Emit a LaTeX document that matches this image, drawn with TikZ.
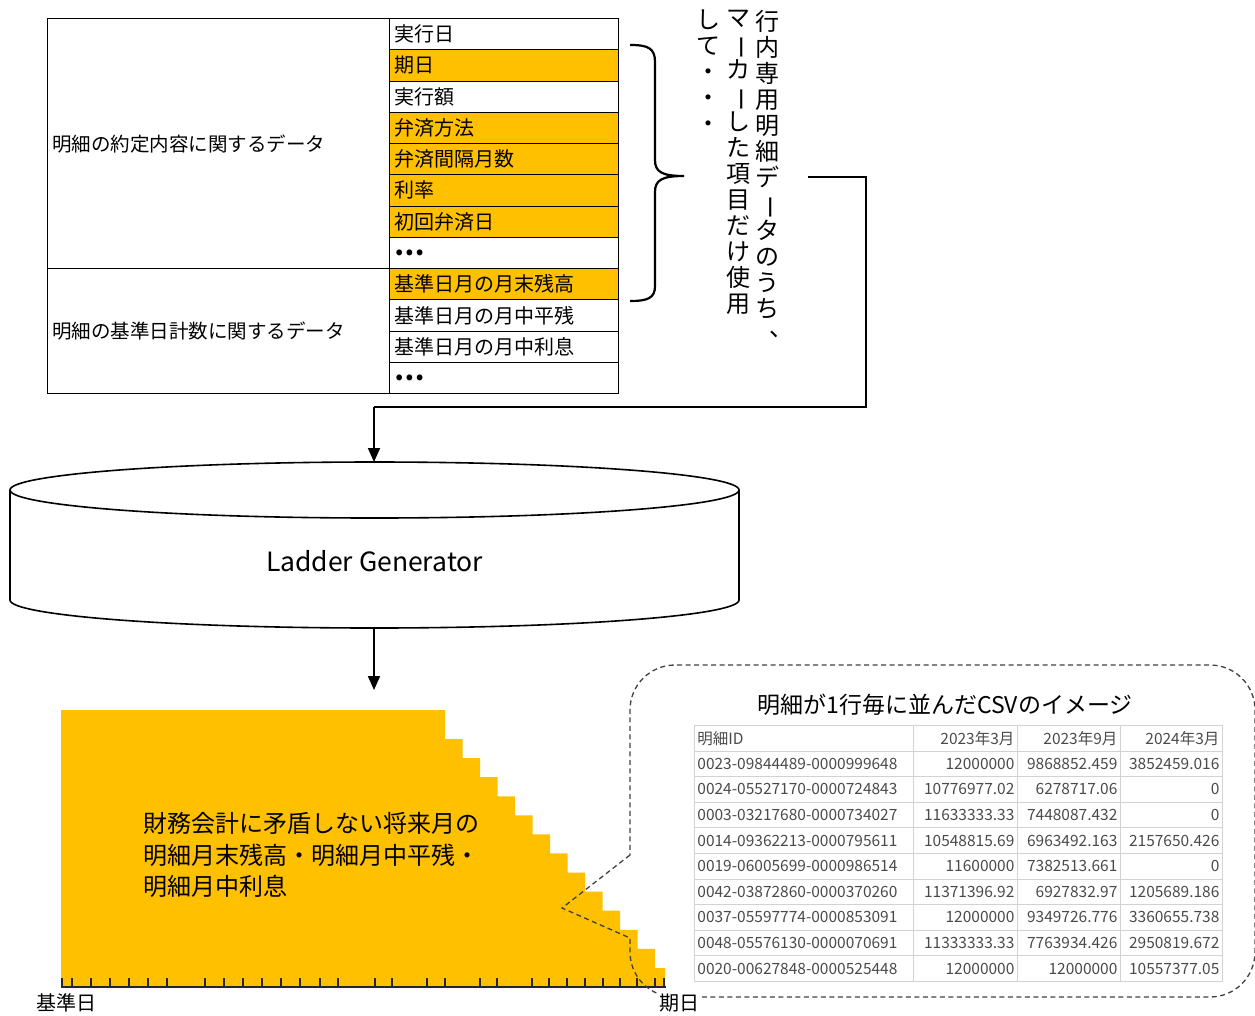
\documentclass[tikz,border=0pt]{standalone}
\usepackage{fontspec}
\usetikzlibrary{arrows.meta}
\setmainfont{Noto Sans CJK JP}
\newfontfamily\jp{Noto Sans CJK JP}
\definecolor{gold}{HTML}{FFC000}
\definecolor{csvline}{HTML}{D2D2D2}
\definecolor{csvtext}{HTML}{4A4A4A}
\definecolor{dashc}{HTML}{404040}
\newcommand{\vbar}{\rotatebox[origin=c]{-90}{ー}}
\newcommand{\vcomma}{\raisebox{0.3em}[0.88em][0.12em]{\makebox[1em][l]{\hspace*{0.6em}、}}}
\begin{document}
\begin{tikzpicture}[x=1pt,y=-1pt,
  cellr/.style={draw, line width=1.1pt, anchor=north west, minimum width=229pt,
    minimum height=31.25pt, text width=220pt, inner xsep=4.5pt, inner ysep=0pt,
    align=left, font=\jp\fontsize{20}{22}\selectfont},
  groupbox/.style={draw, line width=1.1pt, anchor=north west, minimum width=342pt,
    text width=333pt, inner xsep=4.5pt, inner ysep=0pt, align=left,
    font=\jp\fontsize{19.5}{22}\selectfont},
  vtext/.style={anchor=north, align=center, inner sep=0pt,
    font=\jp\fontsize{24}{26}\selectfont},
  conn/.style={line width=1.8pt},
  arr/.style={line width=1.8pt, -{Triangle[length=14pt,width=12pt]}},
  csv/.style={draw=csvline, line width=0.8pt, anchor=north west, minimum height=25.6pt,
    inner xsep=3pt, inner ysep=0pt, text=csvtext, font=\jp\fontsize{15.5}{17}\selectfont},
  callout/.style={draw=dashc, line width=1.3pt, dash pattern=on 5pt off 3.5pt},
]
\useasboundingbox (0,0) rectangle (1255,1015);

% ---------- top table ----------
\node[groupbox, minimum height=250pt] (g1) at (47,18) {明細の約定内容に関するデータ};
\node[groupbox, minimum height=125pt] (g2) at (47,268) {明細の基準日計数に関するデータ};
\foreach \t/\f [count=\i from 0] in {実行日/white, 期日/gold, 実行額/white, 弁済方法/gold,
   弁済間隔月数/gold, 利率/gold, 初回弁済日/gold, {\fontsize{27}{22}\selectfont\bfseries …}/white,
   基準日月の月末残高/gold, 基準日月の月中平残/white, 基準日月の月中利息/white,
   {\fontsize{27}{22}\selectfont\bfseries …}/white}
  \node[cellr, fill=\f] (r\i) at (389,18+31.25*\i) {\t};

% ---------- brace ----------
\draw[line width=2.2pt] (630,45) .. controls (648,45) and (655,48) .. (655,62)
  -- (655,160) .. controls (655,172) and (662,176) .. (684,176)
  .. controls (662,176) and (655,180) .. (655,192)
  -- (655,286) .. controls (655,298) and (648,301) .. (630,301);
\coordinate (tip) at (684,176);

% ---------- vertical note ----------
\node[vtext] (v1) at (767,10) {行\\内\\専\\用\\明\\細\\デ\\\vbar\\タ\\の\\う\\ち\\\vcomma};
\node[vtext] (v2) at (738,10) {マ\\\vbar\\カ\\\vbar\\し\\た\\項\\目\\だ\\け\\使\\用};
\node[vtext] (v3) at (708,10) {し\\て\\・\\・\\・};

% ---------- connector to generator ----------
\coordinate (c1) at (808,177);
\coordinate (c2) at (866,177);
\coordinate (c3) at (866,407);
\coordinate (c4) at (374,407);
\coordinate (gentop) at (374,462);
\draw[conn] (c1) -- (c2) -- (c3) -- (c4);
\draw[arr] (c4) -- (gentop);

% ---------- cylinder ----------
\draw[line width=1.6pt, fill=white] (10,490) -- (10,600)
   arc[start angle=180, end angle=0, x radius=364.5, y radius=28] -- (739,490);
\draw[line width=1.6pt, fill=white] (374.5,490) ellipse[x radius=364.5, y radius=28];
\node[font=\jp\fontsize{26.5}{28}\selectfont] (gen) at (374.5,561) {Ladder Generator};
\coordinate (genbot) at (374,628);
\coordinate (stairtop) at (374,690);
\draw[arr] (genbot) -- (stairtop);

% ---------- staircase ----------
\fill[gold] (61,710) -- (445,710)
  \foreach \i in {0,...,11} { -- (445+17.5*\i,739+19.08*\i) -- (462.5+17.5*\i,739+19.08*\i) }
  -- (655,968) -- (665,968) -- (665,987) -- (61,987) -- cycle;
\draw[line width=1.6pt, draw=black!85] (61,987) -- (666,987);
\foreach \x in {62,72,91,110,129,148,167,205,224,243,262,281,300,320,338,375,392,427,445,480,497,532,549,567,585,603,620,637,655,664}
  \draw[line width=1.3pt, draw=black!85] (\x,987) -- (\x,978);
\node[anchor=west, align=left, inner sep=0pt, font=\jp\fontsize{24}{31.5}\selectfont] (stxt) at (143,855)
  {財務会計に矛盾しない将来月の\\明細月末残高・明細月中平残・\\明細月中利息};

% ---------- callout ----------
\draw[callout] (630,855) -- (562,908) -- (630,938) -- (630,952)
  arc[start angle=180, end angle=90, radius=45] -- (1210,997)
  arc[start angle=90, end angle=0, radius=45] -- (1255,710)
  arc[start angle=0, end angle=-90, radius=45] -- (675,665)
  arc[start angle=-90, end angle=-180, radius=45] -- cycle;
\node[font=\jp\fontsize{23}{26}\selectfont] (ctitle) at (945,705) {明細が1行毎に並んだCSVのイメージ};

\node[fill=white, inner sep=1pt, font=\jp\fontsize{20}{22}\selectfont] (kijun) at (66,1003) {基準日};
\node[fill=white, inner sep=1pt, font=\jp\fontsize{20}{22}\selectfont] (kijitsu) at (679,1003) {期日};

% ---------- CSV table ----------
\foreach \id/\a/\b/\c [count=\k from 0] in {
  明細ID/2023年3月/2023年9月/2024年3月,
  0023-09844489-0000999648/12000000/9868852.459/3852459.016,
  0024-05527170-0000724843/10776977.02/6278717.06/0,
  0003-03217680-0000734027/11633333.33/7448087.432/0,
  0014-09362213-0000795611/10548815.69/6963492.163/2157650.426,
  0019-06005699-0000986514/11600000/7382513.661/0,
  0042-03872860-0000370260/11371396.92/6927832.97/1205689.186,
  0037-05597774-0000853091/12000000/9349726.776/3360655.738,
  0048-05576130-0000070691/11333333.33/7763934.426/2950819.672,
  0020-00627848-0000525448/12000000/12000000/10557377.05}
{
  \node[csv, minimum width=219pt, text width=213pt, align=left] (t\k a) at (694,725+25.6*\k) {\id};
  \node[csv, minimum width=104pt, text width=98pt, align=right] (t\k b) at (913,725+25.6*\k) {\a};
  \node[csv, minimum width=103pt, text width=97pt, align=right] (t\k c) at (1017,725+25.6*\k) {\b};
  \node[csv, minimum width=102pt, text width=96pt, align=right] (t\k d) at (1120,725+25.6*\k) {\c};
}
\end{tikzpicture}
\end{document}
